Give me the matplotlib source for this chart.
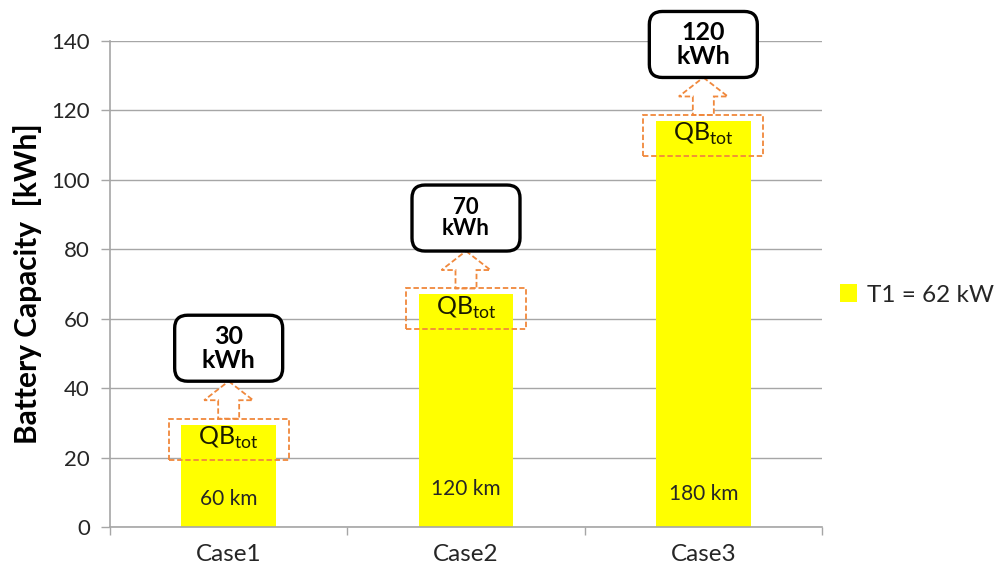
import numpy as np
import matplotlib
matplotlib.use("Agg")
import matplotlib.pyplot as plt
from matplotlib.patches import FancyBboxPatch, FancyArrow, Rectangle

cases = ["Case1", "Case2", "Case3"]
qb_tot = [29.5, 67, 117]
capacity_labels = ["30\nkWh", "70\nkWh", "120\nkWh"]
range_labels = ["60 km", "120 km", "180 km"]
range_label_y = [8, 11, 9.5]
series_name = "T1 = 62 kW"
y_ticks = [0, 20, 40, 60, 80, 100, 120, 140]

plt.rcParams["font.family"] = ["Lato", "DejaVu Sans"]
plt.rcParams["mathtext.fontset"] = "custom"
plt.rcParams["mathtext.rm"] = "Lato"

YELLOW = "#FFFF00"
ORANGE = "#F0883C"
GRID = "#A6A6A6"
TEXT = "#262626"
callout_sizes = [18, 16, 18]

W, H = 994, 580
fig = plt.figure(figsize=(W / 100, H / 100), dpi=100)
ax_rect = [110 / W, 1 - 527 / H, 712 / W, 486 / H]
ax = fig.add_axes(ax_rect)

x = np.arange(len(cases))
ax.bar(x, qb_tot, width=0.4, color=YELLOW, label=series_name, zorder=2)

ax.set_xlim(-0.5, len(cases) - 0.5)
ax.set_ylim(0, 140)
ax.set_yticks(y_ticks)
ax.yaxis.grid(True, color=GRID, lw=1.0, zorder=0)
ax.set_axisbelow(True)

# category boundaries carry the tick marks, labels sit in the middle
ax.set_xticks(np.arange(-0.5, len(cases)), minor=False)
ax.set_xticklabels([])
ax.set_xticks(x, minor=True)
ax.set_xticklabels(cases, minor=True, fontsize=17.5, color=TEXT)
ax.tick_params(axis="x", which="major", direction="out", length=6, width=1, color=GRID)
ax.tick_params(axis="x", which="minor", length=0, pad=12)
ax.tick_params(axis="y", direction="out", length=6.5, width=1, color=GRID,
               labelsize=16, labelcolor=TEXT, pad=8)

for side in ["top", "right"]:
    ax.spines[side].set_visible(False)
for side in ["left", "bottom"]:
    ax.spines[side].set_color(GRID)
    ax.spines[side].set_linewidth(1.2)

ax.set_ylabel("Battery Capacity  [kWh]", fontsize=21.5, fontweight="bold", color="black", labelpad=7)

# data units per pixel, used to size the shapes in screen proportions
px_x = ax_rect[2] * W / (len(cases))
px_y = ax_rect[3] * H / 140
aspect = px_x / px_y

for i, v in enumerate(qb_tot):
    # dashed frame around the bar top
    fw, fh = 120 / px_x, 41 / px_y
    fy = v - 4.2 - fh / 2
    ax.add_patch(Rectangle((i - fw / 2, fy), fw, fh, fill=False, ec=ORANGE,
                           lw=1.3, ls=(0, (3, 1.5)), zorder=4))
    ax.text(i, v - 3.8, r"QB$_{\mathrm{tot}}$", ha="center", va="center",
            fontsize=18, color="#1a1a00", zorder=5)

    # callout box with the installed capacity
    bw, bh = 108 / px_x, 66 / px_y
    by = v + 22 - bh / 2
    box = FancyBboxPatch((i - bw / 2, by), bw, bh,
                         boxstyle="round,pad=0,rounding_size=%f" % (13 / px_x),
                         mutation_aspect=aspect, fc="white", ec="black",
                         lw=2.4, zorder=6, clip_on=False)
    ax.add_patch(box)
    ax.text(i, v + 22, capacity_labels[i], ha="center", va="center",
            fontsize=callout_sizes[i], fontweight="bold", color="black",
            linespacing=1.05, zorder=7, clip_on=False)

    # hollow arrow from the frame up to the callout
    y0 = fy + fh
    ax.add_patch(FancyArrow(i, y0, 0, by - y0, width=21 / px_x,
                            head_width=49 / px_x, head_length=19 / px_y,
                            length_includes_head=True, fc="white", ec=ORANGE,
                            lw=1.3, ls=(0, (3, 1.5)), zorder=3))

    ax.text(i, range_label_y[i], range_labels[i], ha="center", va="center",
            fontsize=15, color=TEXT, zorder=5)

leg = fig.legend(loc="center left", bbox_to_anchor=(818 / W, 1 - 295 / H),
                 frameon=False, fontsize=17.5, handlelength=0.7, handleheight=0.7,
                 handletextpad=0.4, labelcolor=TEXT)

fig.savefig("out.png", dpi=100)
